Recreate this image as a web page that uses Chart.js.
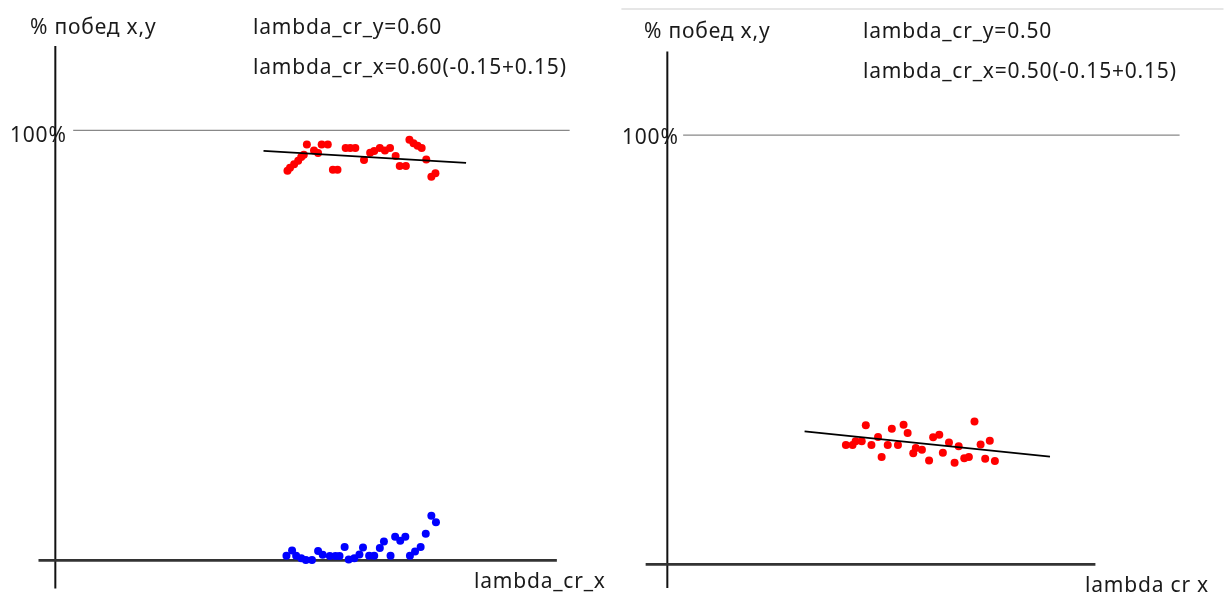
<!DOCTYPE html>
<html>
<head>
<meta charset="utf-8">
<script src="https://cdn.jsdelivr.net/npm/chart.js@4"></script>
<style>
  html, body { margin: 0; padding: 0; background: #fff; }
  #wrap { position: relative; width: 1224px; height: 595px; overflow: hidden; }
  canvas { position: absolute; top: 0; }
  .lbl { position: absolute; font-family: "Noto Sans", sans-serif; font-size: 21px; letter-spacing: 0.8px; color: #1a1a1a; white-space: nowrap; line-height: 1; }
</style>
</head>
<body>
<div id="wrap">
  <canvas id="left" width="612" height="595" style="left:0"></canvas>
  <canvas id="right" width="612" height="595" style="left:612px"></canvas>

  <div class="lbl" style="left:30px;top:16px">% побед x,y</div>
  <div class="lbl" style="left:253px;top:16px">lambda_cr_y=0.60</div>
  <div class="lbl" style="left:253px;top:56px">lambda_cr_x=0.60(-0.15+0.15)</div>
  <div class="lbl" style="left:10px;top:124px">100%</div>
  <div class="lbl" style="left:474px;top:570px">lambda_cr_x</div>

  <div class="lbl" style="left:644px;top:20px">% побед x,y</div>
  <div class="lbl" style="left:863px;top:20px">lambda_cr_y=0.50</div>
  <div class="lbl" style="left:863px;top:60px">lambda_cr_x=0.50(-0.15+0.15)</div>
  <div class="lbl" style="left:622px;top:126px">100%</div>
  <div class="lbl" style="left:1085px;top:574px">lambda cr x</div>
</div>
<script>
// left panel: lambda_cr_y = 0.60
const leftRedX = [0.455, 0.460, 0.468, 0.476, 0.482, 0.487, 0.493, 0.507, 0.515, 0.522, 0.534, 0.544, 0.553, 0.569, 0.578, 0.588,
  0.605, 0.617, 0.625, 0.636, 0.646, 0.656, 0.667, 0.675, 0.687, 0.694, 0.702, 0.710, 0.718, 0.727, 0.737, 0.745];
const leftRedY = [90.6, 91.3, 92.1, 92.9, 93.8, 94.3, 96.7, 95.3, 94.7, 96.7, 96.7, 90.8, 90.8, 95.9, 95.9, 95.9,
  93.1, 94.8, 95.2, 95.9, 95.3, 95.9, 94.0, 91.7, 91.7, 97.8, 97.0, 96.4, 95.9, 93.2, 89.2, 90.0];

const leftBlueX = [0.453, 0.464, 0.472, 0.482, 0.491, 0.503, 0.515, 0.524, 0.538, 0.549, 0.557, 0.567, 0.575, 0.586, 0.596,
  0.603, 0.615, 0.625, 0.636, 0.644, 0.657, 0.666, 0.676, 0.686, 0.695, 0.705, 0.716, 0.726, 0.737, 0.746];
const leftBlueY = [1.1, 2.3, 1.1, 0.5, 0.1, 0.1, 2.2, 1.3, 1.0, 1.0, 1.0, 3.1, 0.2, 0.5, 1.4,
  3.0, 1.1, 1.1, 2.9, 4.4, 1.1, 5.5, 4.6, 5.5, 1.1, 2.1, 3.1, 6.2, 10.4, 8.9];

const leftTrendX = [0.408, 0.805];
const leftTrendY = [95.2, 92.4];

// right panel: lambda_cr_y = 0.50
const rightRedX = [0.350, 0.363, 0.369, 0.381, 0.389, 0.400, 0.413, 0.420, 0.432, 0.440, 0.452, 0.463, 0.471, 0.482, 0.487,
  0.499, 0.513, 0.521, 0.533, 0.540, 0.552, 0.563, 0.571, 0.582, 0.591, 0.602, 0.614, 0.623, 0.632, 0.642];
const rightRedY = [27.8, 27.8, 28.7, 28.7, 32.4, 27.8, 29.7, 25.0, 27.8, 31.6, 27.8, 32.5, 30.6, 25.9, 27.1,
  26.7, 24.2, 29.6, 30.2, 26.0, 28.4, 23.7, 27.5, 24.7, 25.0, 33.3, 27.9, 24.6, 28.8, 24.1];

const rightTrendX = [0.269, 0.750];
const rightTrendY = [31.0, 25.1];

const RED = "rgb(255, 0, 0)";
const BLUE = "rgb(0, 0, 255)";

function toPoints(xs, ys) {
  return xs.map((x, i) => ({ x: x, y: ys[i] }));
}

// draws the hand-drawn style axis and reference lines, given in data units
const framePlugin = {
  id: "frame",
  beforeDatasetsDraw(chart, args, opts) {
    const ctx = chart.ctx;
    const sx = chart.scales.x;
    const sy = chart.scales.y;
    ctx.save();
    opts.lines.forEach((l) => {
      ctx.beginPath();
      ctx.strokeStyle = l.color;
      ctx.lineWidth = l.width;
      ctx.moveTo(sx.getPixelForValue(l.x1), sy.getPixelForValue(l.y1));
      ctx.lineTo(sx.getPixelForValue(l.x2), sy.getPixelForValue(l.y2));
      ctx.stroke();
    });
    ctx.restore();
  },
};

function scatterSet(points, color) {
  return {
    type: "scatter",
    data: points,
    backgroundColor: color,
    borderWidth: 0,
    pointRadius: 4,
    pointHoverRadius: 4,
  };
}

function trendSet(points) {
  return {
    type: "line",
    data: points,
    borderColor: "#000",
    borderWidth: 1.8,
    pointRadius: 0,
    fill: false,
  };
}

function makePanel(id, datasets, yMin, yMax, lines) {
  return new Chart(document.getElementById(id), {
    type: "scatter",
    data: { datasets: datasets },
    plugins: [framePlugin],
    options: {
      responsive: false,
      animation: false,
      layout: { padding: 0 },
      plugins: {
        legend: { display: false },
        tooltip: { enabled: false },
        frame: { lines: lines },
      },
      scales: {
        x: { type: "linear", display: false, min: -0.1006, max: 1.0832 },
        y: { type: "linear", display: false, min: yMin, max: yMax },
      },
    },
  });
}

makePanel(
  "left",
  [
    trendSet(toPoints(leftTrendX, leftTrendY)),
    scatterSet(toPoints(leftRedX, leftRedY), RED),
    scatterSet(toPoints(leftBlueX, leftBlueY), BLUE),
  ],
  -7.11,
  129.36,
  [
    { x1: 0, y1: 119.6, x2: 0, y2: -6.5, color: "#111", width: 2 },
    { x1: -0.033, y1: 0, x2: 0.983, y2: 0, color: "#333", width: 2.6 },
    { x1: 0.035, y1: 100, x2: 1.008, y2: 100, color: "#888", width: 1.2 },
  ]
);

makePanel(
  "right",
  [
    trendSet(toPoints(rightTrendX, rightTrendY)),
    scatterSet(toPoints(rightRedX, rightRedY), RED),
  ],
  -6.21,
  130.57,
  [
    { x1: -0.09, y1: 129.4, x2: 1.09, y2: 129.4, color: "#e6e6e6", width: 2 },
    { x1: 0, y1: 119.5, x2: 0, y2: -5.5, color: "#111", width: 2 },
    { x1: -0.0425, y1: 0, x2: 0.839, y2: 0, color: "#333", width: 2.6 },
    { x1: 0.031, y1: 100, x2: 1.004, y2: 100, color: "#888", width: 1.2 },
  ]
);
</script>
</body>
</html>
